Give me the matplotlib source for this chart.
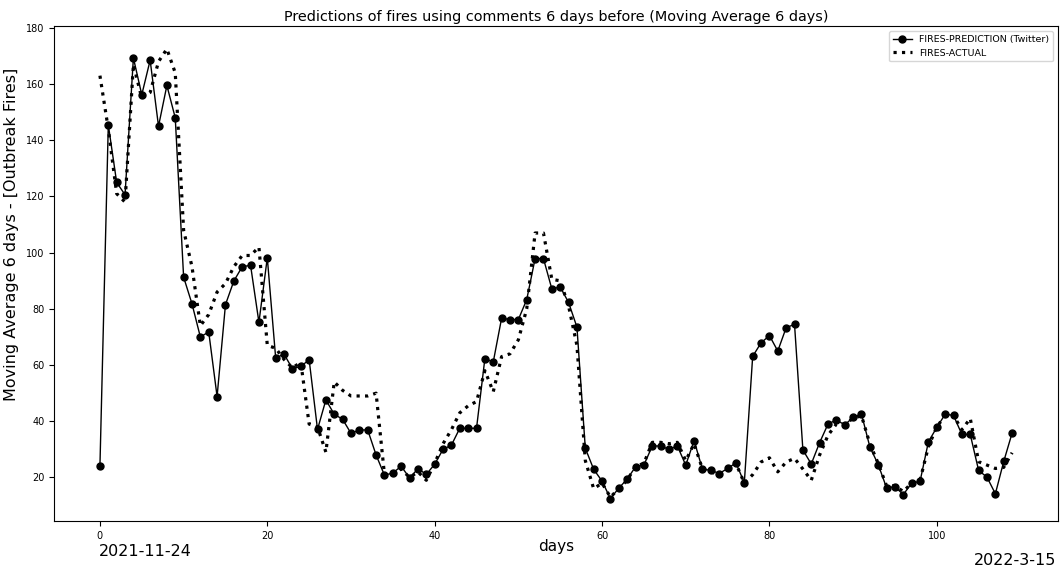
import matplotlib
matplotlib.use("Agg")
import matplotlib.pyplot as plt
import numpy as np

# moving average (6 days) of fire outbreaks, one value per day
prediction = [24, 145.5, 125, 120.6, 169.3, 156.2, 168.5, 145, 159.5, 148,
              91.3, 81.8, 70, 71.8, 48.8, 81.5, 89.9, 95, 95.5, 75.2,
              98.2, 62.5, 63.9, 58.7, 59.5, 61.9, 37.1, 47.6, 42.5, 40.7,
              35.7, 36.9, 36.9, 28.0, 20.8, 21.6, 24.0, 19.8, 23.1, 21.1,
              24.7, 30, 31.5, 37.5, 37.5, 37.5, 62.3, 61.1, 76.7, 76.2,
              76.2, 83.3, 97.9, 97.9, 87.1, 87.8, 82.3, 73.5, 30.4, 22.9,
              18.7, 12.5, 16.2, 19.4, 23.8, 24.4, 31.2, 31.2, 30.0, 31.2,
              24.4, 33.1, 22.9, 22.6, 21.4, 23.2, 25.2, 18.1, 63.1, 67.9,
              70.5, 65.0, 73.3, 74.5, 29.8, 24.8, 32.4, 39.0, 40.5, 38.7,
              41.4, 42.6, 30.9, 24.6, 16.3, 16.7, 13.9, 18.0, 18.6, 32.7,
              37.8, 42.5, 42.1, 35.3, 35.3, 22.5, 20.1, 14.2, 25.7, 35.8]

actual = [163, 144, 121, 118, 167, 155, 157, 168, 172.5, 164,
          108, 95, 74, 78, 86, 89, 95, 99, 99, 102,
          67, 66, 62, 59, 61, 39, 38, 29, 54, 51,
          49, 49, 49, 50, 21, 21, 23, 20, 22, 19,
          25, 32, 37, 43, 45.5, 47, 58, 50.5, 63, 64,
          69, 80, 107, 107, 90.5, 90, 81, 67, 26, 16,
          18, 13, 16, 19, 24, 25, 32.5, 32.5, 32, 32.5,
          26, 32, 23, 22, 21, 23, 25, 18, 21, 25.5,
          27, 22, 25.5, 26.8, 23, 19, 28, 35, 39, 39,
          41, 42, 32, 25, 17, 17, 15, 18, 19, 31,
          38, 42, 42, 37, 41, 25.6, 24.4, 23.2, 23.6, 28.8]

days = np.arange(len(prediction))

fig = plt.figure(figsize=(10.61, 5.67), dpi=100)
ax = fig.add_axes([0.0512, 0.0811, 0.9457, 0.8722])

ax.plot(days, prediction, color="black", linewidth=1, marker="o",
        markersize=5, label="FIRES-PREDICTION (Twitter)")
ax.plot(days, actual, color="black", linewidth=2.3, linestyle=":",
        label="FIRES-ACTUAL")

ax.set_title("Predictions of fires using comments 6 days before (Moving Average 6 days)",
             fontsize=10.4, pad=4)
ax.set_ylabel("Moving Average 6 days - [Outbreak Fires]", fontsize=11.5)
ax.yaxis.set_label_coords(-0.035, 0.58)
ax.set_xlabel("days", fontsize=11, labelpad=-1)
ax.tick_params(labelsize=7)
ax.legend(loc="upper right", fontsize=6.8)

fig.text(99 / 1061, 1 - 556 / 567, "2021-11-24", fontsize=11.5, va="baseline")
fig.text(1056 / 1061, 1 - 565 / 567, "2022-3-15", fontsize=11.5, va="baseline", ha="right")

fig.savefig("out.png", dpi=100)
plt.close(fig)
